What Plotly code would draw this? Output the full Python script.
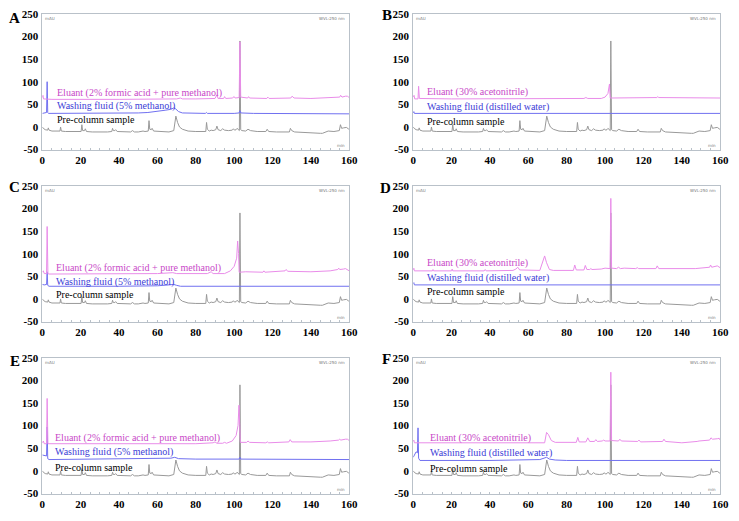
import plotly.graph_objects as go

# ---------------- data (retention time in min, absorbance in mAU) ----------------
X_TICKS = [0, 20, 40, 60, 80, 100, 120, 140, 160]
Y_TICKS = [-50, 0, 50, 100, 150, 200, 250]
PANELS = ["A", "B", "C", "D", "E", "F"]

ELUANT_LABELS = {
    "A": "Eluant (2% formic acid + pure methanol)",
    "B": "Eluant (30% acetonitrile)",
    "C": "Eluant (2% formic acid + pure methanol)",
    "D": "Eluant (30% acetonitrile)",
    "E": "Eluant (2% formic acid + pure methanol)",
    "F": "Eluant (30% acetonitrile)",
}
WASH_LABELS = {
    "A": "Washing fluid (5% methanol)",
    "B": "Washing fluid (distilled water)",
    "C": "Washing fluid (5% methanol)",
    "D": "Washing fluid (distilled water)",
    "E": "Washing fluid (5% methanol)",
    "F": "Washing fluid (distilled water)",
}
PRE_LABEL = "Pre-column sample"

# Pre-column sample (same injection shown in every panel)
pre_column = [
    (0, 0), (0.5, -3), (1.5, -6), (2.8, -7), (3.1, -2), (3.5, -7), (5, -9), (9.2, -9), (9.5, 0), (9.9, -9),
    (12, -10), (18, -10), (20.2, -10), (20.6, 5), (21.0, -8), (22, -8), (22.4, -4), (23, -10), (26, -11),
    (34, -11), (36.2, -10), (36.6, -3), (37, -8), (37.8, -8), (38.2, -6), (39, -10), (42, -11), (46, -11),
    (47, -8), (48, -11), (50, -11), (51.5, -9), (52.5, -9), (53.5, -10), (55.2, -9), (55.6, 14), (56.0, -5),
    (56.8, -6), (57.2, -3), (58, -9), (62, -10), (66, -11), (68.5, -8), (69.6, 24), (70.5, 10), (71.5, 0),
    (73, -5), (75, -8), (76, -9), (80, -10), (84, -10), (85.2, -10), (85.6, 10), (86.0, -5), (87, -9),
    (88, -7), (89, -8), (90.4, -6), (91, 2), (91.6, -6), (93, -8), (94, -4), (95, -7), (97, -8), (99, -7),
    (99.6, -4), (100.2, -7), (101, -6), (101.5, -3), (102.7, -8), (103.0, 190), (103.4, -6), (104, -8),
    (106, -9), (107.2, -5), (108.5, -8), (112, -10), (116.5, -10), (117.2, -5), (118, -10), (122, -11),
    (127, -12), (128.8, -11), (129.3, -3), (130, -8), (131.5, -11), (135, -12), (140, -14), (143, -15),
    (145, -14), (146, -14), (148, -11), (149, -9), (152, -10), (154.8, -8), (155.4, 5), (156, -3),
    (157, -2), (158.5, -1), (159.5, -4), (160, -6),
]

washing = {
    "A": [(0, 30), (1, 31), (2.2, 32), (2.5, 100), (2.8, 32), (3.2, 30), (20, 30), (40, 30), (50, 31),
          (55, 32), (60, 34), (64, 37), (67, 39), (68.5, 42), (69.5, 40), (71, 34), (73, 31), (80, 30),
          (85, 30), (85.5, 32), (86, 30), (100, 30), (102.6, 31), (103, 36), (103.4, 31), (110, 30),
          (130, 30), (160, 29)],
    "B": [(0, 31), (0.3, 34), (0.6, 30), (80, 30), (160, 30)],
    "C": [(0, 32), (1, 31), (2.2, 32), (2.5, 60), (2.8, 30), (3.5, 28), (40, 28), (60, 29), (66, 31),
          (68.5, 32), (70, 30), (72, 28), (160, 28)],
    "D": [(0, 34), (0.3, 36), (0.6, 31), (80, 31), (160, 31)],
    "E": [(0, 35), (1.5, 33), (2.2, 33), (2.5, 97), (2.8, 27), (3.5, 25), (40, 26), (60, 27), (67, 28),
          (69, 30), (71, 27), (80, 26), (102.6, 26), (103, 30), (103.4, 26), (160, 25)],
    "F": [(0, 30), (0.5, 35), (1.5, 42), (2.2, 40), (2.5, 95), (2.8, 28), (3.5, 23), (40, 23), (60, 24),
          (66, 25), (69.5, 30), (71, 26), (74, 24), (80, 23), (160, 23)],
}

eluant = {
    "A": [(0, 65), (0.3, 70), (0.6, 62), (5, 61), (40, 61), (60, 62), (70, 62), (72, 64), (73, 62),
          (80, 62), (90, 63), (91, 71), (91.6, 63), (94.5, 63), (95, 67), (95.6, 63), (99, 64), (100, 67),
          (100.5, 64), (102.6, 65), (103, 188), (103.4, 66), (107, 64), (107.5, 67), (108, 64), (117, 63),
          (117.5, 66), (118.2, 63), (129.5, 64), (130.2, 68), (131.2, 64), (140, 63), (148, 64), (155, 66),
          (155.5, 70), (156.2, 66), (158, 68), (159, 68), (160, 65)],
    "B": [(0, 66), (0.4, 70), (0.8, 62), (2.5, 62), (2.8, 90), (3.2, 63), (20, 62), (50, 62), (89, 63),
          (90, 65), (91, 63), (98, 63), (100, 66), (101.5, 74), (102.3, 95), (102.7, 64), (106, 64),
          (127, 65), (127.5, 67), (128, 65), (160, 64)],
    "C": [(0, 60), (0.5, 62), (1, 56), (2.2, 56), (2.5, 160), (2.9, 56), (3.5, 55), (30, 55), (60, 56),
          (68, 58), (70, 56), (86, 56), (88, 60), (89, 56), (95, 56), (98, 62), (100, 72), (101.3, 90),
          (101.8, 128), (102.3, 100), (102.6, 59), (106, 60), (115, 59), (115.5, 62), (116, 59),
          (126.5, 62), (127, 65), (128, 61), (140, 60), (150, 62), (154, 65), (154.5, 68), (155, 65),
          (157, 66), (158, 67), (160, 62)],
    "D": [(0, 64), (0.3, 68), (0.6, 62), (10, 62), (10.3, 65), (10.6, 62), (20, 62), (20.3, 66),
          (20.6, 62), (37, 62), (37.5, 65), (38, 62), (52, 63), (53.5, 66), (54.5, 70), (55.5, 64),
          (66, 63), (67.5, 80), (68.5, 95), (69.5, 80), (71, 65), (73, 63), (83.5, 63), (84.2, 75),
          (85, 64), (89, 64), (89.7, 74), (90.5, 65), (92, 65), (92.6, 67), (93.2, 65), (98, 66),
          (100, 68), (102.6, 67), (103, 222), (103.4, 68), (106, 67), (107, 70), (108, 67), (110, 68),
          (116, 67), (116.8, 69), (117.5, 67), (126.5, 67), (127.2, 73), (128, 67), (140, 66), (147, 67),
          (154.5, 70), (155, 75), (155.6, 70), (157.5, 71), (158.5, 73), (160, 69)],
    "E": [(0, 62), (0.5, 66), (1, 60), (2.2, 60), (2.5, 160), (2.9, 60), (3.5, 60), (40, 60), (80, 60),
          (89, 62), (90, 64), (91, 61), (94, 61), (95, 63), (96, 61), (99, 66), (101, 78), (102, 100),
          (102.5, 145), (102.9, 100), (103.2, 63), (106.5, 63), (107.2, 66), (108, 63), (116.5, 62),
          (117.3, 64), (118, 62), (128.5, 64), (129.2, 69), (130, 64), (140, 64), (150, 66), (154.5, 68),
          (155, 70), (155.6, 68), (158, 70), (159, 70), (160, 67)],
    "F": [(0, 65), (0.3, 68), (0.6, 62), (40, 62), (68.5, 62), (69.5, 85), (70.5, 80), (72, 67),
          (74, 63), (85, 63), (85.8, 74), (86.5, 64), (90, 64), (91, 73), (92, 65), (94.5, 65), (95.2, 69),
          (96, 65), (98.5, 66), (99.3, 68), (100, 66), (102.6, 66), (103, 218), (103.4, 67), (107, 66),
          (107.7, 70), (108.5, 66), (117, 65), (117.7, 68), (118.5, 64), (130, 65), (130.7, 70),
          (131.5, 65), (140, 62), (145, 63), (148, 65), (149, 66), (154.5, 68), (155.2, 73), (156, 70),
          (158.5, 71), (159.5, 72), (160, 68)],
}

# label anchor positions (data coords: left x, y centre)
label_pos = {
    "A": (6.5, 75, 47, 16), "B": (6, 77, 45, 12), "C": (6, 69, 38, 10),
    "D": (6, 80, 47, 17), "E": (5.5, 73, 41, 7), "F": (7.5, 73, 39, 5),
}

# ---------------- style / layout ----------------
W, H = 739, 521
COL_X = [(40, 352), (417, 729)]
ROW_Y = [(8, 147), (184, 323), (360, 499)]
LETTER_POS = [(12, 12), (390, 9), (12, 185), (389, 186), (12, 363), (390, 361)]

GRAY = "#999999"
BLUE = "#7070f0"
PINK = "#e98ce9"
FRAME = "#b9c1c9"
SERIF = "Liberation Serif, Times New Roman, serif"

fig = go.Figure()
layout = dict(
    width=W, height=H, margin=dict(l=0, r=0, t=0, b=0),
    paper_bgcolor="white", plot_bgcolor="white", showlegend=False,
)
annotations = []
tickfont = dict(family=SERIF, size=11, color="black")

for i, p in enumerate(PANELS):
    col, row = i % 2, i // 2
    x0, x1 = COL_X[col]
    yt, yb = ROW_Y[row]
    sfx = "" if i == 0 else str(i + 1)
    xa, ya = "x" + sfx, "y" + sfx
    layout["xaxis" + sfx] = dict(
        domain=[x0 / W, x1 / W], range=[0, 160], anchor=ya,
        tickvals=X_TICKS, ticktext=["<b>%d</b>" % v for v in X_TICKS],
        ticks="inside", ticklen=2, tickcolor=FRAME,
        minor=dict(ticks="inside", ticklen=1.5, tickcolor=FRAME, dtick=5),
        showgrid=False, zeroline=False, showline=True, linecolor=FRAME, linewidth=1, mirror=True,
        tickfont=tickfont, fixedrange=True,
    )
    layout["yaxis" + sfx] = dict(
        domain=[1 - yb / H, 1 - yt / H], range=[-50, 250], anchor=xa,
        tickvals=Y_TICKS, ticktext=["<b>%d</b>" % v for v in Y_TICKS], ticks="", ticklabelstandoff=1,
        showgrid=False, zeroline=False, showline=True, linecolor=FRAME, linewidth=1, mirror=True,
        tickfont=tickfont, fixedrange=True,
    )
    for data, color in ((pre_column, GRAY), (washing[p], BLUE), (eluant[p], PINK)):
        fig.add_trace(go.Scatter(
            x=[d[0] for d in data], y=[d[1] for d in data], mode="lines",
            line=dict(color=color, width=1), xaxis=xa, yaxis=ya, hoverinfo="skip",
        ))
    lx, ye, yw, yp = label_pos[p]
    for txt, yy, c in ((ELUANT_LABELS[p], ye, "#c848c8"), (WASH_LABELS[p], yw, "#3b3bd6"),
                       (PRE_LABEL, yp, "black")):
        annotations.append(dict(x=lx, y=yy, xref=xa, yref=ya, text=txt, showarrow=False,
                                xanchor="left", yanchor="middle",
                                font=dict(family=SERIF, size=10, color=c)))
    # instrument stamps
    annotations.append(dict(x=0.5, y=250, xref=xa, yref=ya, text="mAU", showarrow=False,
                            xanchor="left", yanchor="top", font=dict(family="DejaVu Sans", size=4, color="#777")))
    annotations.append(dict(x=159, y=250, xref=xa, yref=ya, text="WVL:250 nm", showarrow=False,
                            xanchor="right", yanchor="top", font=dict(family="DejaVu Sans", size=4, color="#777")))
    annotations.append(dict(x=159, y=-50, xref=xa, yref=ya, text="min", showarrow=False,
                            xanchor="right", yanchor="bottom", font=dict(family="DejaVu Sans", size=4, color="#777")))
    lxp, lyp = LETTER_POS[i]
    annotations.append(dict(x=lxp / W, y=1 - lyp / H, xref="paper", yref="paper", text="<b>%s</b>" % p,
                            showarrow=False, xanchor="center", yanchor="middle",
                            font=dict(family=SERIF, size=15, color="black")))

layout["annotations"] = annotations
fig.update_layout(**layout)
fig.write_html("out.html", config={"displayModeBar": False},
               post_script="document.body.style.margin='0';document.body.style.overflow='hidden';")
